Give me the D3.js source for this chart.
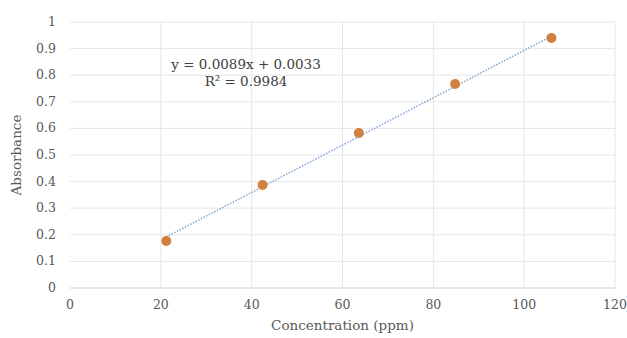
<!DOCTYPE html>
<html lang="en">
<head>
<meta charset="UTF-8">
<title>Calibration curve</title>
<script src="https://d3js.org/d3.v7.min.js"></script>
<style>
  body { margin: 0; background: #fff; }
</style>
</head>
<body>
<script>
  const width = 627, height = 338;
  const margin = {top: 22, right: 12, bottom: 50, left: 70};

  const concentration = [21.2, 42.4, 63.6, 84.8, 106];
  const absorbance = [0.177, 0.387, 0.583, 0.767, 0.94];
  const slope = 0.0089, intercept = 0.0033;
  const xTicks = [0, 20, 40, 60, 80, 100, 120];
  const yTicks = [0, 0.1, 0.2, 0.3, 0.4, 0.5, 0.6, 0.7, 0.8, 0.9, 1];

  const x = d3.scaleLinear().domain([0, 120]).range([margin.left, width - margin.right]);
  const y = d3.scaleLinear().domain([0, 1]).range([height - margin.bottom, margin.top]);

  const svg = d3.select("body").append("svg")
      .attr("width", width).attr("height", height)
      .attr("font-family", "'DejaVu Serif', 'Liberation Serif', serif");

  // gridlines
  svg.append("g").selectAll("line").data(yTicks).join("line")
      .attr("x1", x(0)).attr("x2", x(120))
      .attr("y1", d => y(d)).attr("y2", d => y(d))
      .attr("stroke", d => d === 0 ? "#d0d0d0" : "#e6e6e6");
  svg.append("g").selectAll("line").data(xTicks.slice(1)).join("line")
      .attr("x1", d => x(d)).attr("x2", d => x(d))
      .attr("y1", y(0)).attr("y2", y(1))
      .attr("stroke", "#e6e6e6");

  // tick labels
  svg.append("g").selectAll("text").data(yTicks).join("text")
      .attr("x", x(0) - 14).attr("y", d => y(d) + 4)
      .attr("text-anchor", "end").attr("font-size", 12.5).attr("fill", "#595959")
      .text(d => +d.toFixed(1));
  svg.append("g").selectAll("text").data(xTicks).join("text")
      .attr("x", d => x(d)).attr("y", y(0) + 21)
      .attr("text-anchor", "middle").attr("font-size", 12.5).attr("fill", "#595959")
      .text(d => d);

  // trendline
  const xr = d3.extent(concentration);
  svg.append("line")
      .attr("x1", x(xr[0])).attr("y1", y(slope * xr[0] + intercept))
      .attr("x2", x(xr[1])).attr("y2", y(slope * xr[1] + intercept))
      .attr("stroke", "#7ea6d8").attr("stroke-width", 1.5)
      .attr("stroke-dasharray", "1.5,1.5");

  // points
  svg.append("g").selectAll("circle").data(concentration).join("circle")
      .attr("cx", d => x(d)).attr("cy", (d, i) => y(absorbance[i]))
      .attr("r", 5).attr("fill", "#d2803f");

  // equation
  svg.append("text").attr("x", 246).attr("y", 69).attr("text-anchor", "middle")
      .attr("font-size", 13.5).attr("fill", "#404040").text("y = 0.0089x + 0.0033");
  svg.append("text").attr("x", 246).attr("y", 86).attr("text-anchor", "middle")
      .attr("font-size", 13.5).attr("fill", "#404040").text("R² = 0.9984");

  // axis titles
  svg.append("text").attr("x", x(60)).attr("y", height - 8)
      .attr("text-anchor", "middle").attr("font-size", 13.5).attr("fill", "#595959")
      .text("Concentration (ppm)");
  svg.append("text")
      .attr("transform", `translate(21,${y(0.5)}) rotate(-90)`)
      .attr("text-anchor", "middle").attr("font-size", 13.5).attr("fill", "#595959")
      .text("Absorbance");
</script>
</body>
</html>
